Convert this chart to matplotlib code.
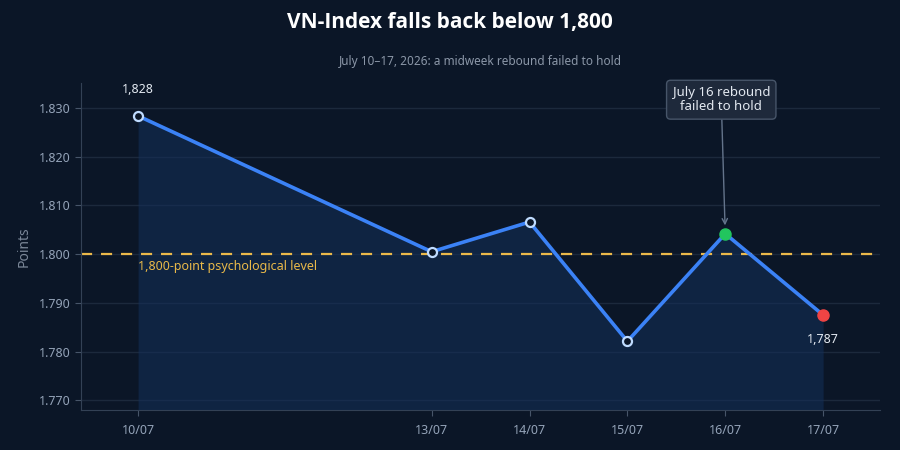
import matplotlib
matplotlib.use("Agg")
import matplotlib.pyplot as plt
import matplotlib.dates as mdates
import numpy as np
import pandas as pd

dates = ["2026-07-10", "2026-07-13", "2026-07-14", "2026-07-15", "2026-07-16", "2026-07-17"]
values = [1828.4, 1800.5, 1806.6, 1782.1, 1804.2, 1787.5]
tick_labels = ["10/07", "13/07", "14/07", "15/07", "16/07", "17/07"]
yticks = [1770, 1780, 1790, 1800, 1810, 1820, 1830]
ytick_labels = ["1.770", "1.780", "1.790", "1.800", "1.810", "1.820", "1.830"]
threshold = 1800
title = "VN-Index falls back below 1,800"
subtitle = "July 10–17, 2026: a midweek rebound failed to hold"
annot_text = "July 16 rebound\nfailed to hold"
threshold_label = "1,800-point psychological level"
first_label = "1,828"
last_label = "1,787"

plt.rcParams['font.family'] = ['Noto Sans', 'DejaVu Sans']

BG = "#0b1627"
GRID = "#1c293c"
TXT = "#94a3b8"

x = pd.to_datetime(dates)
fig = plt.figure(figsize=(9, 4.5), dpi=100, facecolor=BG)
ax = fig.add_axes([0.09, 0.089, 0.888, 0.727])
ax.set_facecolor(BG)

ymin, ymax = 1768.0, 1835.2
ax.set_ylim(ymin, ymax)
pad = pd.Timedelta(hours=14)
ax.set_xlim(x[0] - pad, x[-1] + pad)

ax.set_yticks(yticks)
ax.set_yticklabels(ytick_labels)
ax.set_xticks(x)
ax.set_xticklabels(tick_labels)
ax.grid(axis='y', color=GRID, linewidth=1)
ax.set_axisbelow(True)
ax.tick_params(colors="#475569", labelcolor=TXT, labelsize=9, length=4)
ax.tick_params(axis='x', pad=6)
for s in ["top", "right"]:
    ax.spines[s].set_visible(False)
for s in ["left", "bottom"]:
    ax.spines[s].set_color("#334155")

ax.fill_between(x, values, ymin, color="#13305a", alpha=0.55, linewidth=0, zorder=1)
ax.axhline(threshold, color="#eab84a", linestyle=(0, (5, 4)), linewidth=1.6, zorder=2)
ax.text(x[0], threshold - 1.3, threshold_label, color="#e9b949", fontsize=9,
        ha='left', va='top', zorder=3)

ax.plot(x, values, color="#3b82f6", linewidth=2.6, zorder=4)
ax.plot(x[:4], values[:4], 'o', markersize=6.5, markerfacecolor=BG,
        markeredgecolor="#bfdbfe", markeredgewidth=1.6, zorder=5)
ax.plot(x[4], values[4], 'o', markersize=8, color="#22c55e", zorder=5)
ax.plot(x[5], values[5], 'o', markersize=8, color="#ef4444", zorder=5)

ax.annotate(first_label, (x[0], values[0]), xytext=(0, 20), textcoords='offset pixels',
            ha='center', va='bottom', color="#e2e8f0", fontsize=9)
ax.annotate(last_label, (x[5], values[5]), xytext=(0, -18), textcoords='offset pixels',
            ha='center', va='top', color="#e2e8f0", fontsize=9)

ax.annotate(annot_text, (x[4], values[4]), xytext=(-4, 134), textcoords='offset pixels',
            ha='center', va='center', color="#e2e8f0", fontsize=9.5, linespacing=1.1,
            bbox=dict(boxstyle="round,pad=0.45,rounding_size=0.3", fc="#1e293b", ec="#475569", lw=1),
            arrowprops=dict(arrowstyle="->", color="#64748b", lw=1, shrinkA=0, shrinkB=6),
            zorder=6)

ax.set_ylabel("Points", color="#7b8798", fontsize=10, labelpad=5)

fig.text(0.5, 0.95, title, ha='center', va='center', color="white", fontsize=15,
         fontweight='bold', family=['Open Sans', 'DejaVu Sans'])
fig.text(0.534, 0.864, subtitle, ha='center', va='center', color="#8b97a8", fontsize=8.5)

fig.savefig("out.png", dpi=100, facecolor=BG)
